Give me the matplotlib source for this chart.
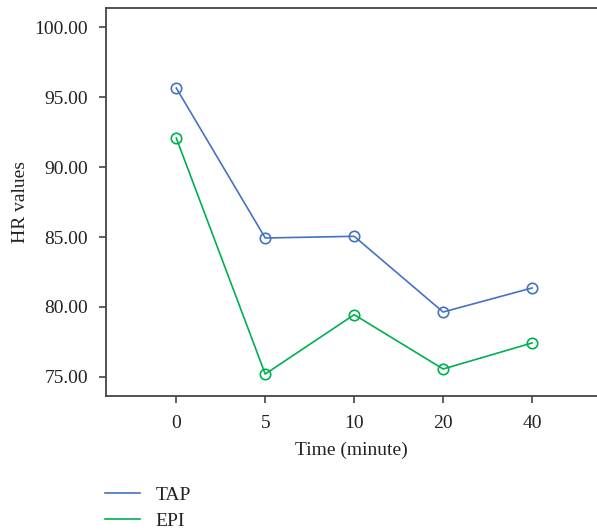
import matplotlib
matplotlib.use("Agg")
import matplotlib.pyplot as plt

plt.rcParams['font.family'] = ['Liberation Serif', 'DejaVu Serif']

times = ["0", "5", "10", "20", "40"]
tap = [95.64, 84.93, 85.05, 79.64, 81.36]
epi = [92.07, 75.21, 79.45, 75.57, 77.43]

fig = plt.figure(figsize=(5.97, 5.30), dpi=100)
ax = fig.add_axes([0.1776, 0.2528, 0.8224, 0.7321])

x = range(len(times))
l1, = ax.plot(x, tap, color="#4472C4", lw=1.2, marker="o", mfc="none",
              mec="#4472C4", ms=7.5, mew=1.2, label="TAP")
l2, = ax.plot(x, epi, color="#00B050", lw=1.2, marker="o", mfc="none",
              mec="#00B050", ms=7.5, mew=1.2, label="EPI")

ax.set_xlim(-0.79, 4.73)
ax.set_ylim(73.64, 101.36)
ax.set_xticks(list(x))
ax.set_xticklabels(times)
ax.set_yticks([75, 80, 85, 90, 95, 100])
ax.set_yticklabels(["%.2f" % v for v in [75, 80, 85, 90, 95, 100]])

for s in ["left", "top", "bottom"]:
    ax.spines[s].set_color("#444444")
    ax.spines[s].set_linewidth(1.3)
ax.spines["right"].set_visible(False)
ax.tick_params(colors="#444444", labelcolor="#222222", labelsize=14,
               length=5, width=1.2, direction="out")
ax.tick_params(axis="x", pad=9)
ax.tick_params(axis="y", pad=8)

ax.set_xlabel("Time (minute)", fontsize=14, color="#222222", labelpad=7)
ax.set_ylabel("HR values", fontsize=14, color="#222222", labelpad=4)

fig.legend(handles=[l1, l2], labels=["TAP", "EPI"], loc="lower left",
           bbox_to_anchor=(105 / 597, 0.0), frameon=False, fontsize=14,
           handlelength=1.8, handletextpad=0.8, labelspacing=0.45,
           borderpad=0, borderaxespad=0, labelcolor="#222222")
for h in fig.legends[0].legend_handles:
    h.set_marker("")

fig.savefig("out.png", dpi=100)
